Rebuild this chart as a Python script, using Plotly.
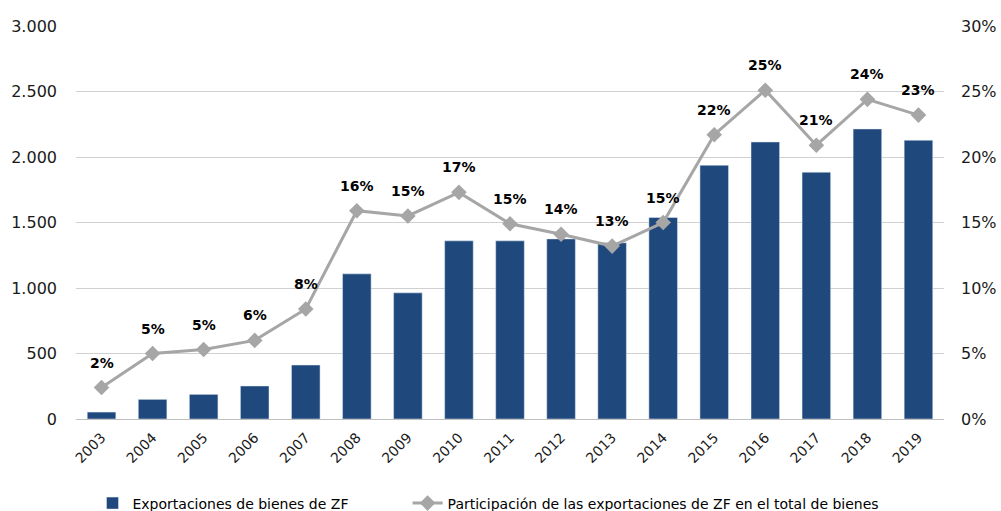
import plotly.graph_objects as go

# datos
years = [str(y) for y in range(2003, 2020)]
exports_zf = [53, 150, 188, 252, 412, 1108, 963, 1360, 1360, 1375, 1345,
              1538, 1937, 2115, 1884, 2214, 2128]
share_zf = [2.4, 5.0, 5.3, 6.0, 8.4, 15.9, 15.5, 17.3, 14.9, 14.1, 13.2,
            15.0, 21.7, 25.1, 20.9, 24.4, 23.2]
share_labels = ["2%", "5%", "5%", "6%", "8%", "16%", "15%", "17%", "15%", "14%",
                "13%", "15%", "22%", "25%", "21%", "24%", "23%"]

left_ticks = [0, 500, 1000, 1500, 2000, 2500, 3000]
left_ticktext = ["0", "500", "1.000", "1.500", "2.000", "2.500", "3.000"]
right_ticks = [0, 5, 10, 15, 20, 25, 30]
right_ticktext = ["0%", "5%", "10%", "15%", "20%", "25%", "30%"]

font_family = "DejaVu Sans"
tick_color = "#1a1a1a"

fig = go.Figure()

fig.add_trace(
    go.Bar(
        x=years,
        y=exports_zf,
        name="Exportaciones de bienes de ZF",
        marker=dict(color="#1f497d"),
        width=0.56,
        legend="legend",
        showlegend=True,
    )
)

fig.add_trace(
    go.Scatter(
        x=years,
        y=share_zf,
        yaxis="y2",
        mode="lines+markers",
        name="Participación de las exportaciones de ZF en el total de bienes",
        line=dict(color="#a6a6a6", width=3),
        marker=dict(symbol="diamond", size=12, color="#a6a6a6"),
        legend="legend2",
        showlegend=True,
    )
)

# etiquetas de porcentaje sobre la línea (x como índice de categoría)
for i, (val, lab) in enumerate(zip(share_zf, share_labels)):
    fig.add_annotation(
        x=i, y=val, xref="x", yref="y2", text="<b>" + lab + "</b>",
        showarrow=False, yshift=25,
        font=dict(family=font_family, size=14, color="#000000"),
    )

legend_style = dict(
    orientation="h",
    xanchor="left",
    y=-0.215,
    yanchor="middle",
    font=dict(size=14, color="#000000"),
    bgcolor="rgba(0,0,0,0)",
    visible=True,
)

fig.update_layout(
    width=1001,
    height=511,
    showlegend=True,
    margin=dict(l=76, r=57, t=26, b=92, autoexpand=False),
    plot_bgcolor="white",
    paper_bgcolor="white",
    font=dict(family=font_family, size=16, color=tick_color),
    xaxis=dict(
        type="category",
        range=[-0.5, len(years) - 0.5],
        tickangle=-45,
        tickfont=dict(size=14),
        showgrid=False,
        showline=True,
        linecolor="#bfbfbf",
        linewidth=1,
        ticks="",
        ticklabelstandoff=4,
        automargin=False,
    ),
    yaxis=dict(
        range=[0, 3000],
        tickvals=left_ticks,
        ticktext=left_ticktext,
        showgrid=True,
        gridcolor="#d0d0d0",
        gridwidth=1,
        zeroline=False,
        ticklabelstandoff=18,
        automargin=False,
    ),
    yaxis2=dict(
        range=[0, 30],
        tickvals=right_ticks,
        ticktext=right_ticktext,
        overlaying="y",
        side="right",
        showgrid=False,
        zeroline=False,
        ticklabelstandoff=16,
        automargin=False,
    ),
    legend=dict(x=0.019, **legend_style),
    legend2=dict(x=0.382, **legend_style),
)

# quitar el margen por defecto del <body> para que la figura encaje en la ventana
fig.write_html(
    "out.html",
    config={"displayModeBar": False},
    post_script="document.body.style.margin='0';",
)
